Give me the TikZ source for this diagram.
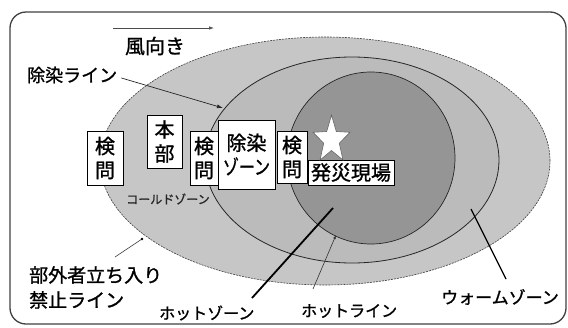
\documentclass[tikz,border=0pt]{standalone}
\usepackage{fontspec}
\newfontfamily\jp[FakeBold=1.2]{Noto Sans CJK JP}
\usetikzlibrary{arrows.meta}
\definecolor{ringA}{HTML}{C6C6C6}
\definecolor{ringB}{HTML}{BBBBBB}
\definecolor{hotC}{HTML}{959595}
\definecolor{frameC}{HTML}{404040}
\tikzset{
  box/.style={draw=black, line width=0.8pt, fill=white, inner sep=0pt, align=center},
  boxfont/.style={font=\jp\fontsize{20}{24}\selectfont},
  lab/.style={inner sep=0pt, anchor=west},
  leader/.style={draw=black, line width=1.8pt},
  thinlead/.style={draw=black!80, line width=0.6pt},
}
\begin{document}
\begin{tikzpicture}[x=1pt,y=-1pt]
\useasboundingbox (0,0) rectangle (568,327);
% frame
\draw[frameC, line width=1.3pt, rounded corners=16pt] (10,12) rectangle (566,324);
% zones
\filldraw[fill=ringA, draw=black!75, dashed, dash pattern=on 2pt off 1pt, line width=0.6pt]
  (325,161) ellipse [x radius=225pt, y radius=124pt];
\filldraw[fill=ringB, draw=black!85, line width=0.8pt]
  (352,160) ellipse [x radius=147pt, y radius=103pt];
\filldraw[fill=hotC, draw=black!85, line width=0.7pt]
  (371,158) ellipse [x radius=84pt, y radius=86pt];
% wind arrow
\coordinate (w1) at (113,28);
\coordinate (w2) at (214,28);
\draw[black!70, line width=0.7pt, -{Latex[length=5pt,width=3.5pt]}] (w1) -- (w2);
\node[lab, anchor=center, font=\jp\fontsize{20}{24}\selectfont] (kaze) at (155,46) {風向き};
% labels
\node[lab, font=\jp\fontsize{18}{22}\selectfont] (josenline) at (27,75) {除染ライン};
\coordinate (jl) at (223,108);
\draw[black!85, line width=0.7pt, -{Latex[length=6pt,width=4pt]}] (josenline.east) ++(4,3) coordinate (jls) -- (jl);
\node[lab, font=\jp\fontsize{19}{23}\selectfont] (bugai1) at (29,275) {部外者立ち入り};
\node[lab, font=\jp\fontsize{19}{23}\selectfont] (bugai2) at (29,300) {禁止ライン};
\coordinate (bl1) at (115,257);
\coordinate (bl2) at (142,239);
\draw[black!75, line width=0.6pt] (bl1) -- (bl2);
\fill[black] (bl2) circle (1.4pt);
\node[inner sep=0pt, font=\jp\fontsize{12}{14}\selectfont, text=black!85] (cold) at (168,199) {コールドゾーン};
% leaders
\node[lab, font=\jp\fontsize{16}{19}\selectfont] (hotzone) at (159,313) {ホットゾーン};
\coordinate (hz1) at (252,298);
\coordinate (hz2) at (333,208);
\draw[leader] (hz1) -- (hz2);
\node[lab, font=\jp\fontsize{16}{19}\selectfont] (hotline) at (301,311) {ホットライン};
\coordinate (hl1) at (313,289);
\coordinate (hl2) at (336,235);
\draw[thinlead, -{Latex[length=4pt,width=3pt]}] (hl1) -- (hl2);
\node[lab, font=\jp\fontsize{17}{20}\selectfont] (warm) at (441,297) {ウォームゾーン};
\coordinate (wz1) at (506,279);
\coordinate (wz2) at (471,209);
\draw[black, line width=1.3pt] (wz1) -- (wz2);
% boxes
\node[box, boxfont, minimum width=36pt, minimum height=54pt] (ken1) at (105,158) {検\\問};
\node[box, boxfont, minimum width=35pt, minimum height=53pt] (honbu) at (164.5,141.5) {本\\部};
\node[box, boxfont, minimum width=28pt, minimum height=54pt] (ken2) at (204,158) {検\\問};
\node[box, boxfont, minimum width=57pt, minimum height=69pt] (josen) at (246.5,154.5) {除染\\\scalebox{0.8}[1]{ゾーン}};
\node[box, boxfont, minimum width=30pt, minimum height=52pt] (ken3) at (292,157) {検\\問};
\node[box, font=\jp\fontsize{20}{24}\selectfont, minimum width=86pt, minimum height=25pt] (site) at (351,172.5) {発災現場};
% star
\filldraw[fill=white, draw=black!60, line width=0.6pt]
  (331.5,115.1) -- (336.3,131.5) -- (350.0,132.3) -- (339.3,143.2) -- (343.0,160.1)
  -- (331.5,150.5) -- (320.0,160.1) -- (323.7,143.2) -- (313.0,132.3) -- (326.7,131.5) -- cycle;
\end{tikzpicture}
\end{document}
